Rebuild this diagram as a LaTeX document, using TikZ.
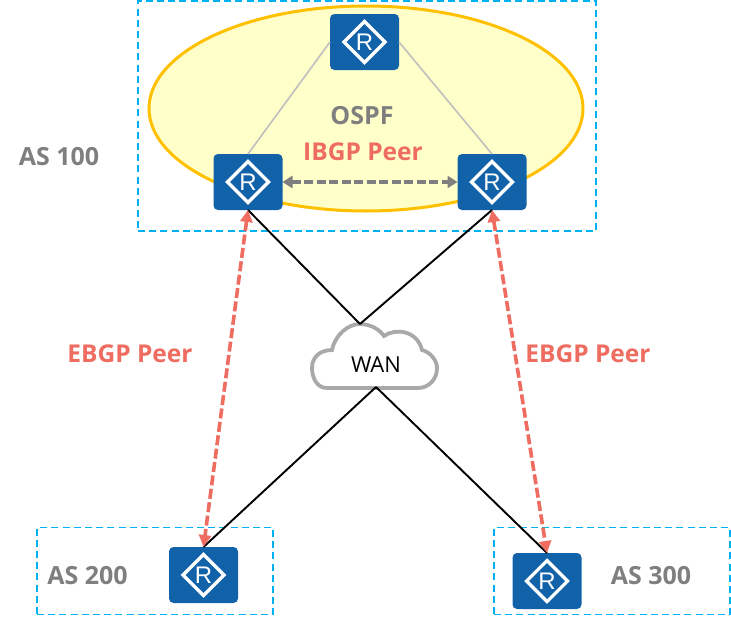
\documentclass[tikz,border=0pt]{standalone}
\usepackage{fontspec}
\setmainfont{Open Sans}
\newfontfamily\rfont{Liberation Sans}
\usetikzlibrary{shapes.geometric,arrows.meta}
\definecolor{rblue}{HTML}{1262AA}
\definecolor{asblue}{HTML}{00B0F0}
\definecolor{peerred}{HTML}{EE6C60}
\definecolor{txtgray}{HTML}{7F7F7F}
\definecolor{ellfill}{HTML}{FFFFC9}
\definecolor{ellline}{HTML}{FFC000}
\definecolor{cloudline}{HTML}{A9A9A9}
\tikzset{
  x=1pt,y=-1pt,
  asbox/.style={draw=asblue,line width=1.9pt,dash pattern=on 7pt off 4.2pt},
  routerbox/.style={fill=rblue,rounded corners=4.5pt,minimum width=69pt,minimum height=56pt,inner sep=0pt,outer sep=0pt},
  routermark/.style={diamond,draw=white,line width=3.2pt,minimum width=42pt,minimum height=42pt,inner sep=0pt,outer sep=0pt,text=white},
  routerletter/.style={inner sep=0pt,text=white,font=\rfont\fontsize{24}{24}\selectfont},
  aslabel/.style={text=txtgray,font=\bfseries\fontsize{25}{28}\selectfont,inner sep=0pt},
  peerlabel/.style={text=peerred,font=\bfseries\fontsize{24.5}{28}\selectfont,inner sep=0pt},
  igp/.style={draw=black!25,line width=1.6pt},
  wanline/.style={draw=black,line width=1.9pt},
  ebgp/.style={draw=peerred,line width=3.6pt,dash pattern=on 10pt off 3.5pt,{Triangle[length=12pt,width=12pt]}-{Triangle[length=12pt,width=12pt]}},
  ibgp/.style={draw=txtgray,line width=3.4pt,dash pattern=on 9pt off 3.5pt,{Triangle[length=10pt,width=12pt]}-{Triangle[length=10pt,width=12pt]}},
}
\newcommand{\routerat}[2]{\node[routerbox] (#1) at #2 {};
  \draw[white,line width=3.2pt,line join=miter] ([yshift=20.5pt]#1.center) -- ([xshift=20.5pt]#1.center) -- ([yshift=-20.5pt]#1.center) -- ([xshift=-20.5pt]#1.center) -- cycle;
  \node[routerletter] (#1m) at #2 {R};}
\begin{document}
\begin{tikzpicture}
\useasboundingbox (0,0) rectangle (731,616);
\fill[white] (0,0) rectangle (731,616);
% AS boxes
\node[asbox,minimum width=458pt,minimum height=230pt,inner sep=0pt] (as100) at (367,116) {};
\node[asbox,minimum width=236pt,minimum height=87pt,inner sep=0pt] (as200) at (155,571) {};
\node[asbox,minimum width=236pt,minimum height=87pt,inner sep=0pt] (as300) at (612,571) {};
% OSPF area
\node[ellipse,draw=ellline,fill=ellfill,line width=3pt,minimum width=434pt,minimum height=205pt,inner sep=0pt] (area) at (366,108.5) {};
% Routers
\routerat{top}{(364.5,42)}
\routerat{left}{(248,182)}
\routerat{right}{(492,182)}
\routerat{bl}{(203.5,575)}
\routerat{br}{(547,581)}
% IGP links
\draw[igp] (top.west) -- (left.north);
\draw[igp] (top.east) -- (right.north);
% Cloud
\draw[cloudline,line width=3.8pt,fill=white]
  (327,388) .. controls (317,388) and (312,378) .. (312,368)
  .. controls (312,357) and (320,350) .. (332,350)
  .. controls (335,335) and (348,324) .. (360,324)
  .. controls (371,324) and (380,330) .. (384,336)
  .. controls (395,328) and (417,330) .. (422,350)
  .. controls (430,352) and (437,360) .. (437,368)
  .. controls (437,380) and (428,388) .. (418,388)
  -- cycle;
\node[inner sep=0pt,font=\fontsize{22}{24}\selectfont,text=black] (wan) at (376,365) {WAN};
\coordinate (wantop) at (360,324);
\coordinate (wanbot) at (376,387);
% WAN links
\draw[wanline] (left.south) -- (wantop);
\draw[wanline] (right.south) -- (wantop);
\draw[wanline] (wanbot) -- (bl.north);
\draw[wanline] (wanbot) -- (br.north);
% Peers
\draw[ibgp] (left.east) -- (right.west);
\draw[ebgp] (left.south) -- (bl.north);
\draw[ebgp] (right.south) -- (br.north);
% Labels
\node[aslabel] (t100) at (59,157) {AS 100};
\node[aslabel] (t200) at (87.5,576) {AS 200};
\node[aslabel] (t300) at (651,576) {AS 300};
\node[aslabel] (tospf) at (362,116) {OSPF};
\node[peerlabel] (tibgp) at (363,152) {IBGP Peer};
\node[peerlabel] (te1) at (130,354) {EBGP Peer};
\node[peerlabel] (te2) at (588,354) {EBGP Peer};
\end{tikzpicture}
\end{document}
